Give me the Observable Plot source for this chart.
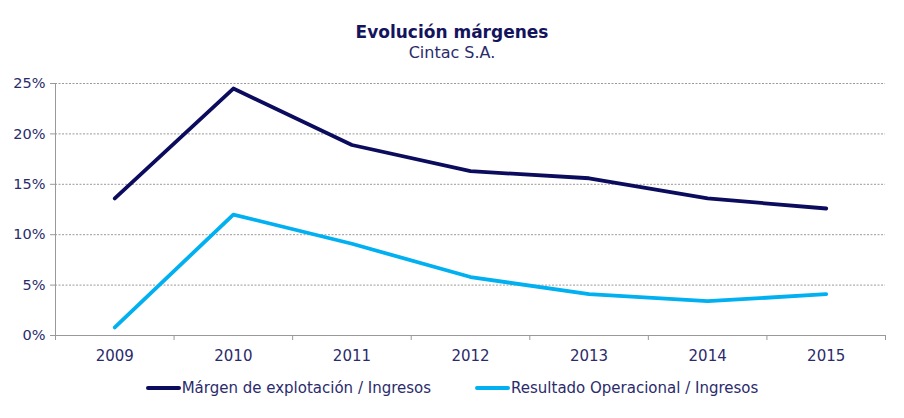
<!DOCTYPE html>
<html><head><meta charset="utf-8">
<script src="https://cdn.jsdelivr.net/npm/d3@7"></script>
<script src="https://cdn.jsdelivr.net/npm/@observablehq/plot@0.6"></script>
<style>
body{margin:0;background:#fff;font-family:"DejaVu Sans",Verdana,sans-serif;}
#wrap{position:relative;width:904px;height:418px;overflow:hidden;}
#title{position:absolute;top:22px;left:0;width:904px;text-align:center;font-weight:bold;font-size:17px;color:#14145c;}
#subtitle{position:absolute;top:43px;left:0;width:904px;text-align:center;font-size:16px;color:#2b2b6b;}
#chart{position:absolute;top:65px;left:0;}
#legend{position:absolute;top:379px;left:0;width:904px;display:flex;justify-content:center;gap:44px;font-size:15px;color:#2b2b6b;}
.item{display:flex;align-items:center;}
.sw{width:35px;height:4px;margin-right:1px;border-radius:2px;}
</style></head>
<body><div id="wrap">
<div id="title">Evolución márgenes</div>
<div id="subtitle">Cintac S.A.</div>
<div id="chart"></div>
<div id="legend"></div>
</div>
<script>
const years = ["2009","2010","2011","2012","2013","2014","2015"];
const margenExplotacion = [13.6, 24.5, 18.9, 16.3, 15.6, 13.6, 12.6];
const resultadoOperacional = [0.8, 12.0, 9.1, 5.8, 4.1, 3.4, 4.1];
const seriesNames = ["Márgen de explotación / Ingresos", "Resultado Operacional / Ingresos"];
const seriesColors = ["#0c0c5e", "#00b0f0"];
const yTicks = [0, 5, 10, 15, 20, 25];

const rows = [];
years.forEach((y, i) => {
  rows.push({i, value: margenExplotacion[i] / 100, series: seriesNames[0]});
  rows.push({i, value: resultadoOperacional[i] / 100, series: seriesNames[1]});
});
const idx = years.map((_, i) => i);
const bounds = d3.range(-0.5, years.length, 1);

const chart = Plot.plot({
  width: 904, height: 300,
  marginLeft: 55, marginRight: 19, marginTop: 18, marginBottom: 30,
  style: {fontFamily: "DejaVu Sans, Verdana, sans-serif", background: "#fff"},
  x: {domain: [-0.5, years.length - 0.5], axis: null},
  y: {domain: [0, 0.25], axis: null},
  color: {domain: seriesNames, range: seriesColors},
  marks: [
    Plot.ruleY(yTicks.filter(t => t > 0).map(t => t / 100), {stroke: "#9a9a9a", strokeDasharray: "2,1.5", strokeWidth: 1}),
    Plot.ruleY([0], {stroke: "#999"}),
    Plot.ruleX([-0.5], {stroke: "#999"}),
    Plot.axisY({ticks: yTicks.map(t => t / 100), tickFormat: d => Math.round(d * 100) + "%", tickSize: 5, tickPadding: 5, stroke: "#999", fill: "#2b2b6b", fontSize: 14.5, label: null}),
    Plot.axisX({ticks: bounds, tickFormat: () => "", tickSize: 5, stroke: "#999", label: null}),
    Plot.axisX({ticks: idx, tickFormat: i => years[i], tickSize: 0, tickPadding: 15, fill: "#2b2b6b", fontSize: 15, label: null}),
    Plot.line(rows, {x: "i", y: "value", z: "series", stroke: "series", strokeWidth: 3.8, strokeLinejoin: "round", strokeLinecap: "round"})
  ]
});
document.getElementById("chart").appendChild(chart);

const legend = document.getElementById("legend");
seriesNames.forEach((n, k) => {
  const it = document.createElement("div"); it.className = "item";
  const sw = document.createElement("div"); sw.className = "sw"; sw.style.background = seriesColors[k];
  const t = document.createElement("span"); t.textContent = n;
  it.appendChild(sw); it.appendChild(t); legend.appendChild(it);
});
</script>
</body></html>
